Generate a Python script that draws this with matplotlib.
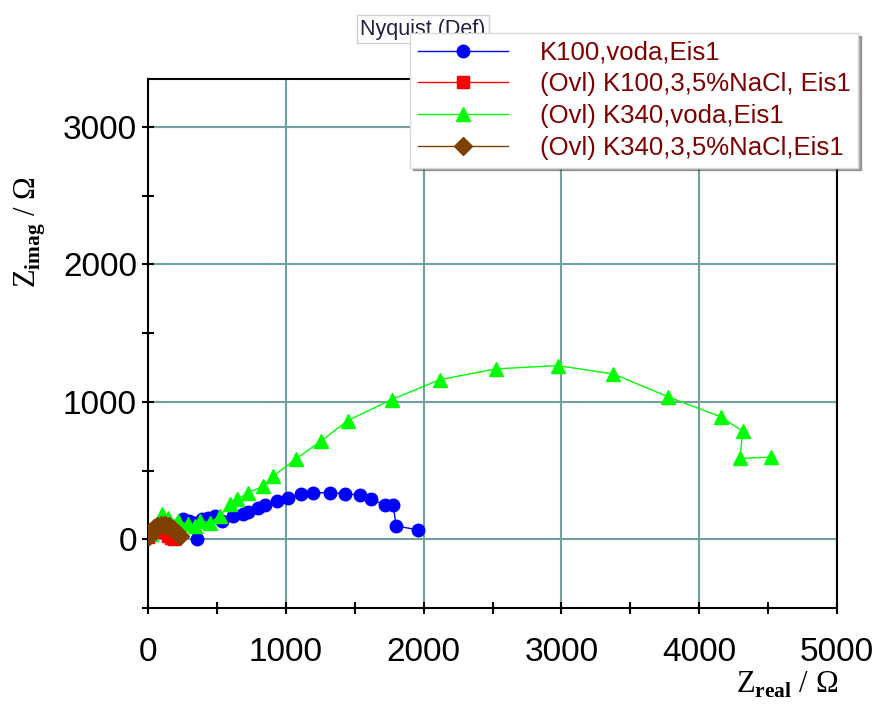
import matplotlib
matplotlib.use('Agg')
import matplotlib.pyplot as plt
from matplotlib.ticker import MultipleLocator

plt.rcParams['font.family'] = ['Liberation Sans', 'DejaVu Sans']
plt.rcParams['mathtext.fontset'] = 'custom'
plt.rcParams['mathtext.rm'] = 'Liberation Serif'
plt.rcParams['mathtext.bf'] = 'Liberation Serif:bold'

# K100, voda
k100_voda_x = [353, 251, 300, 341, 390, 438, 486, 535, 619, 692, 728, 800, 849, 934,
               1018, 1108, 1200, 1321, 1430, 1538, 1616, 1720, 1780, 1800, 1962]
k100_voda_y = [5, 145, 133, 121, 145, 158, 170, 133, 170, 182, 199, 230, 249, 278,
               303, 327, 339, 339, 332, 322, 296, 247, 247, 97, 68]

# K100, 3.5% NaCl
k100_nacl_x = [0, 15, 30, 55, 85, 115, 145, 170, 190]
k100_nacl_y = [15, 45, 65, 75, 70, 50, 25, 10, 5]

# K340, voda
k340_voda_x = [20, 99, 147, 220, 293, 341, 377, 450, 520, 595, 644, 728, 837, 910, 1074,
               1255, 1449, 1768, 2119, 2525, 2973, 3377, 3776, 4156, 4315, 4296, 4519]
k340_voda_y = [40, 182, 158, 130, 109, 97, 133, 121, 170, 254, 290, 339, 387, 460, 586,
               714, 864, 1017, 1162, 1240, 1264, 1203, 1036, 891, 787, 588, 598]

# K340, 3.5% NaCl
k340_nacl_x = [5, 20, 40, 65, 95, 125, 155, 185, 210, 230]
k340_nacl_y = [25, 55, 80, 98, 105, 104, 94, 72, 48, 25]

fig = plt.figure(figsize=(8.82, 7.14), dpi=100)
ax = fig.add_axes([0.1678, 0.1485, 0.7812, 0.7409])

ax.plot(k100_voda_x, k100_voda_y, color='#0000ff', lw=1, marker='o', ms=9,
        label='K100,voda,Eis1', zorder=3)
ax.plot(k100_nacl_x, k100_nacl_y, color='#ff0000', lw=1, marker='s', ms=8,
        label='(Ovl) K100,3,5%NaCl, Eis1', zorder=4)
ax.plot(k340_voda_x, k340_voda_y, color='#00ff00', lw=1, marker='^', ms=9.5,
        label='(Ovl) K340,voda,Eis1', zorder=3)
ax.plot(k340_nacl_x, k340_nacl_y, color='#7f3f00', lw=1, marker='D', ms=9,
        label='(Ovl) K340,3,5%NaCl,Eis1', zorder=5)

ax.set_xlim(0, 5000)
ax.set_ylim(-500, 3350)
ax.xaxis.set_major_locator(MultipleLocator(1000))
ax.xaxis.set_minor_locator(MultipleLocator(500))
ax.yaxis.set_major_locator(MultipleLocator(1000))
ax.yaxis.set_minor_locator(MultipleLocator(500))
ax.grid(True, which='major', color='#70a0a0', lw=1.5, zorder=0)
ax.set_axisbelow(True)
ax.tick_params(which='both', direction='inout', length=8, width=1.5, labelsize=24)
ax.tick_params(axis='x', which='major', pad=17)
ax.tick_params(axis='y', which='major', pad=4)
for s in ax.spines.values():
    s.set_linewidth(1.5)

fig.text(0.95, 0.02, r'Z$_{\mathbf{real}}$ / Ω', ha='right', va='bottom',
         fontsize=22, family='Liberation Serif')
fig.text(0.034, 0.675, r'Z$_{\mathbf{imag}}$ / Ω', ha='center', va='center',
         rotation=90, fontsize=22, family='Liberation Serif')

# title box sits behind the legend
ax.text(360 / 882, 1 - 29 / 714, 'Nyquist (Def)', transform=fig.transFigure,
        fontsize=15.5, color='#202040', va='center', ha='left', clip_on=False, zorder=9,
        bbox=dict(boxstyle='square,pad=0.15', fc='white', ec='#d0d0d0'))

leg = ax.legend(loc='upper left', bbox_to_anchor=(410 / 882, 1 - 33 / 714),
                bbox_transform=fig.transFigure, fontsize=18.5, frameon=True,
                fancybox=False, shadow=True, framealpha=1, edgecolor='#d8d8d8',
                handlelength=3.5, handletextpad=1.25, labelspacing=0.3,
                borderpad=0.3, borderaxespad=0)
for t in leg.get_texts():
    t.set_color('#800000')
leg.set_zorder(10)

fig.savefig('out.png', dpi=100)
